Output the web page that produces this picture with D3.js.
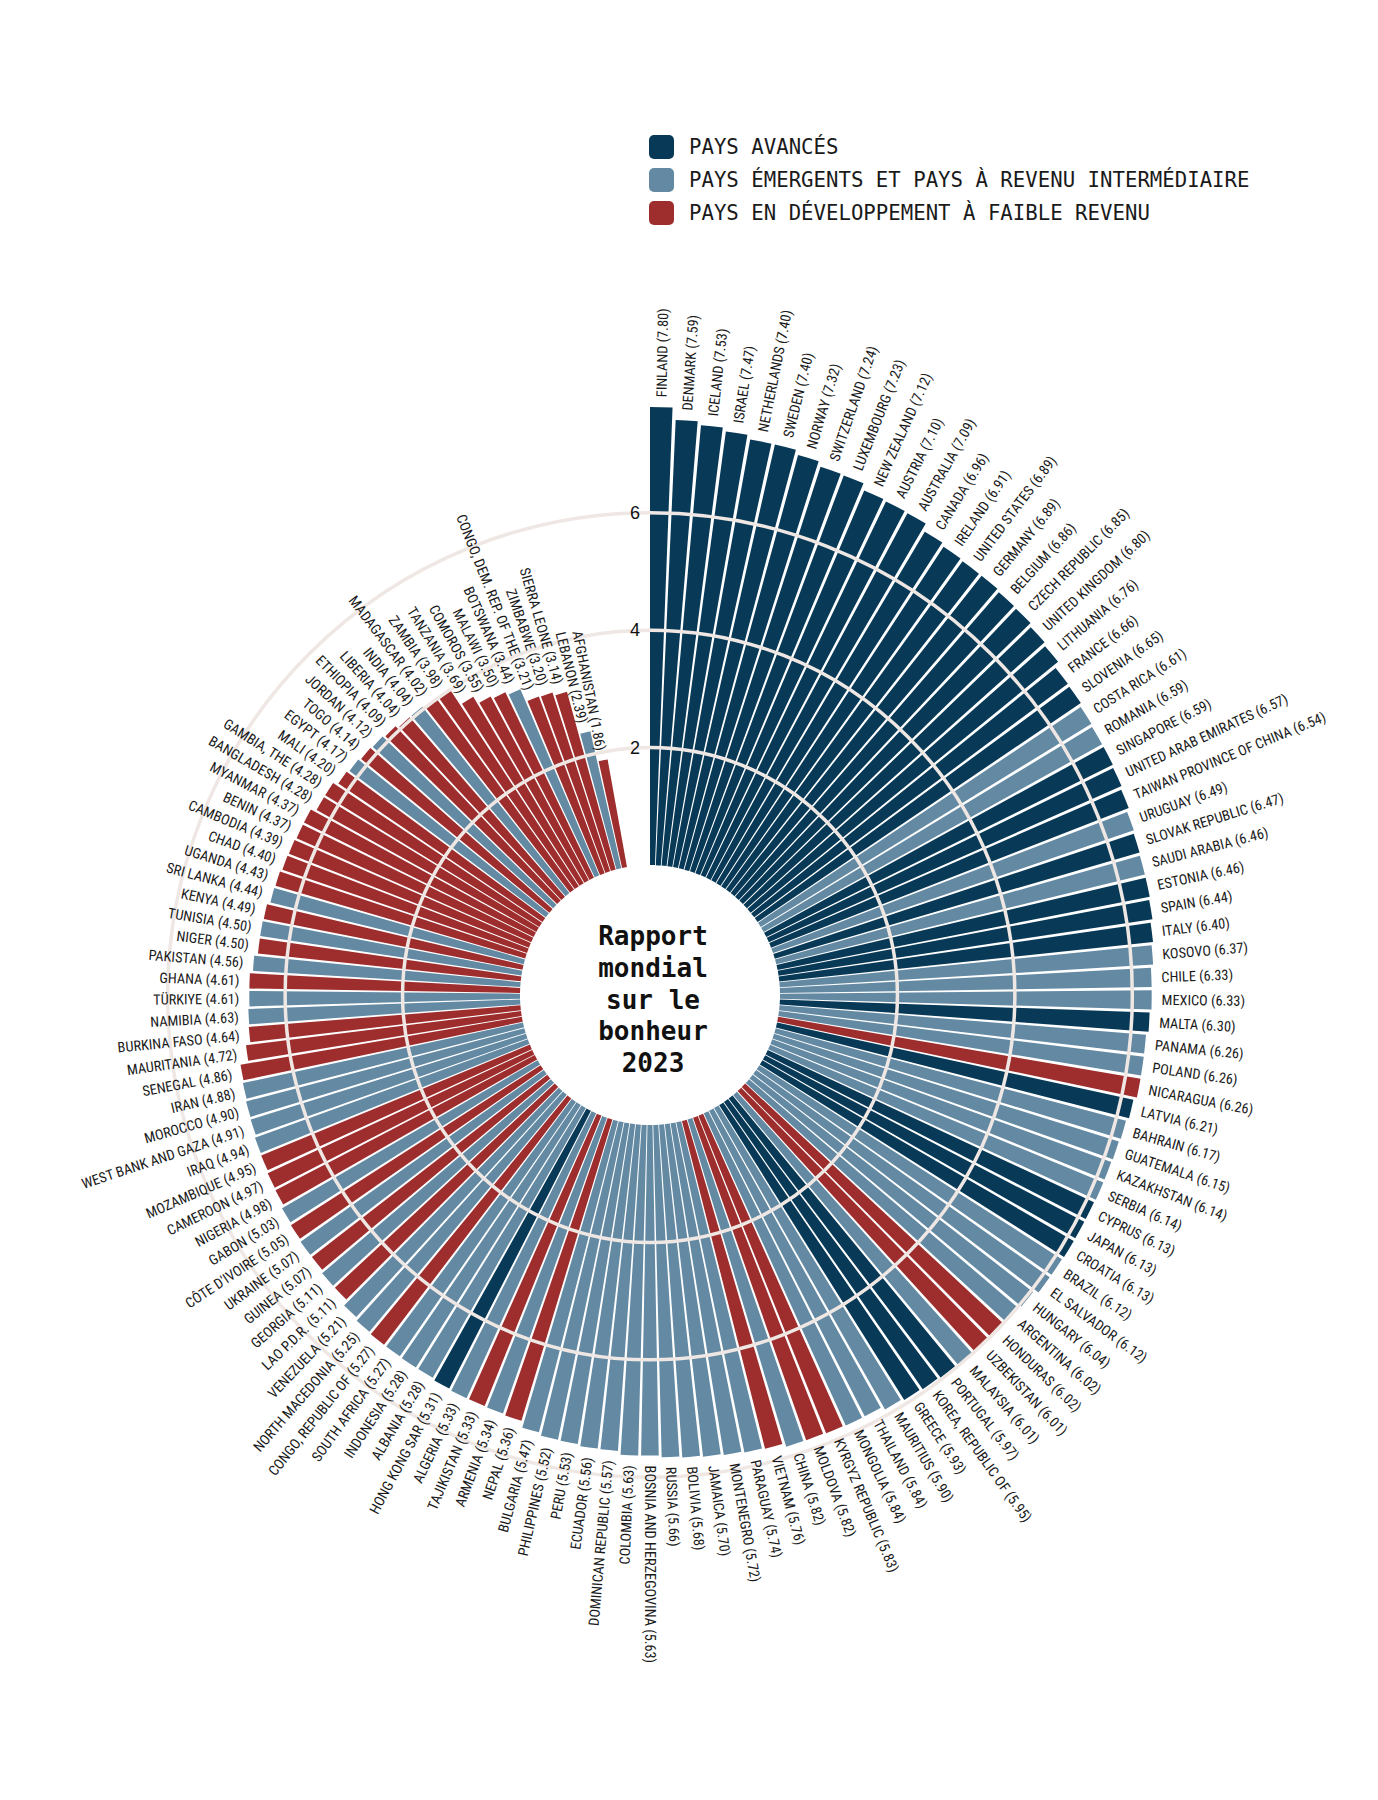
<!DOCTYPE html>
<html>
<head>
<meta charset="utf-8">
<script src="https://cdn.jsdelivr.net/npm/d3@7"></script>
<style>
  body { margin: 0; background: #fff; }
  .lbl { font-family: "Liberation Sans Narrow", "Arial Narrow", "Roboto Condensed", "DejaVu Sans Condensed", sans-serif; font-size: 14.3px; fill: #1a1a1a; }
  .mono { font-family: "DejaVu Sans Mono", "Liberation Mono", monospace; }
</style>
</head>
<body>
<div id="chart"></div>
<script>
// World Happiness Report 2023 scores, sorted high to low
const countries = [
  "FINLAND", "DENMARK", "ICELAND", "ISRAEL", "NETHERLANDS", "SWEDEN", "NORWAY", "SWITZERLAND",
  "LUXEMBOURG", "NEW ZEALAND", "AUSTRIA", "AUSTRALIA", "CANADA", "IRELAND", "UNITED STATES",
  "GERMANY", "BELGIUM", "CZECH REPUBLIC", "UNITED KINGDOM", "LITHUANIA", "FRANCE", "SLOVENIA",
  "COSTA RICA", "ROMANIA", "SINGAPORE", "UNITED ARAB EMIRATES", "TAIWAN PROVINCE OF CHINA",
  "URUGUAY", "SLOVAK REPUBLIC", "SAUDI ARABIA", "ESTONIA", "SPAIN", "ITALY", "KOSOVO", "CHILE",
  "MEXICO", "MALTA", "PANAMA", "POLAND", "NICARAGUA", "LATVIA", "BAHRAIN", "GUATEMALA",
  "KAZAKHSTAN", "SERBIA", "CYPRUS", "JAPAN", "CROATIA", "BRAZIL", "EL SALVADOR", "HUNGARY",
  "ARGENTINA", "HONDURAS", "UZBEKISTAN", "MALAYSIA", "PORTUGAL", "KOREA, REPUBLIC OF", "GREECE",
  "MAURITIUS", "THAILAND", "MONGOLIA", "KYRGYZ REPUBLIC", "MOLDOVA", "CHINA", "VIETNAM",
  "PARAGUAY", "MONTENEGRO", "JAMAICA", "BOLIVIA", "RUSSIA", "BOSNIA AND HERZEGOVINA", "COLOMBIA",
  "DOMINICAN REPUBLIC", "ECUADOR", "PERU", "PHILIPPINES", "BULGARIA", "NEPAL", "ARMENIA",
  "TAJIKISTAN", "ALGERIA", "HONG KONG SAR", "ALBANIA", "INDONESIA", "SOUTH AFRICA",
  "CONGO, REPUBLIC OF", "NORTH MACEDONIA", "VENEZUELA", "LAO P.D.R.", "GEORGIA", "GUINEA",
  "UKRAINE", "CÔTE D'IVOIRE", "GABON", "NIGERIA", "CAMEROON", "MOZAMBIQUE", "IRAQ",
  "WEST BANK AND GAZA", "MOROCCO", "IRAN", "SENEGAL", "MAURITANIA", "BURKINA FASO", "NAMIBIA",
  "TÜRKIYE", "GHANA", "PAKISTAN", "NIGER", "TUNISIA", "KENYA", "SRI LANKA", "UGANDA", "CHAD",
  "CAMBODIA", "BENIN", "MYANMAR", "BANGLADESH", "GAMBIA, THE", "MALI", "EGYPT", "TOGO", "JORDAN",
  "ETHIOPIA", "LIBERIA", "INDIA", "MADAGASCAR", "ZAMBIA", "TANZANIA", "COMOROS", "MALAWI",
  "BOTSWANA", "CONGO, DEM. REP. OF THE", "ZIMBABWE", "SIERRA LEONE", "LEBANON", "AFGHANISTAN"
];

const scores = [
  7.80, 7.59, 7.53, 7.47, 7.40, 7.40, 7.32, 7.24,
  7.23, 7.12, 7.10, 7.09, 6.96, 6.91, 6.89,
  6.89, 6.86, 6.85, 6.80, 6.76, 6.66, 6.65,
  6.61, 6.59, 6.59, 6.57, 6.54,
  6.49, 6.47, 6.46, 6.46, 6.44, 6.40, 6.37, 6.33,
  6.33, 6.30, 6.26, 6.26, 6.26, 6.21, 6.17, 6.15,
  6.14, 6.14, 6.13, 6.13, 6.13, 6.12, 6.12, 6.04,
  6.02, 6.02, 6.01, 6.01, 5.97, 5.95, 5.93,
  5.90, 5.84, 5.84, 5.83, 5.82, 5.82, 5.76,
  5.74, 5.72, 5.70, 5.68, 5.66, 5.63, 5.63,
  5.57, 5.56, 5.53, 5.52, 5.47, 5.36, 5.34,
  5.33, 5.33, 5.31, 5.28, 5.28, 5.27,
  5.27, 5.25, 5.21, 5.11, 5.11, 5.07,
  5.07, 5.05, 5.03, 4.98, 4.97, 4.95, 4.94,
  4.91, 4.90, 4.88, 4.86, 4.72, 4.64, 4.63,
  4.61, 4.61, 4.56, 4.50, 4.50, 4.49, 4.44, 4.43, 4.40,
  4.39, 4.37, 4.37, 4.28, 4.28, 4.20, 4.17, 4.14, 4.12,
  4.09, 4.04, 4.04, 4.02, 3.98, 3.69, 3.55, 3.50,
  3.44, 3.21, 3.20, 3.14, 2.39, 1.86
];

// A = advanced, E = emerging / middle income, L = low-income developing
const groups = [
  "A","A","A","A","A","A","A","A",
  "A","A","A","A","A","A","A",
  "A","A","A","A","A","A","A",
  "E","E","A","A","A",
  "E","A","E","A","A","A","E","E",
  "E","A","E","E","L","A","E","E",
  "E","E","A","A","A","E","E","E",
  "E","L","L","E","A","A","A",
  "E","E","E","L","L","E","L",
  "E","E","E","E","E","E","E",
  "E","E","E","E","E","L","E",
  "L","E","A","E","E","E",
  "L","E","E","L","E","L",
  "E","L","E","L","L","L","E",
  "E","E","E","L","L","L","E",
  "E","L","E","L","E","L","E","L","L",
  "L","L","L","L","L","L","E","L","E",
  "L","L","E","L","L","L","L","L",
  "E","L","L","L","E","L"
];

const groupKeys = ["A", "E", "L"];
const groupLabels = [
  "PAYS AVANCÉS",
  "PAYS ÉMERGENTS ET PAYS À REVENU INTERMÉDIAIRE",
  "PAYS EN DÉVELOPPEMENT À FAIBLE REVENU"
];
const groupColors = ["#083a58", "#6389a3", "#9e2e2e"];
const tickValues = [2, 4, 6];
const titleLines = ["Rapport", "mondial", "sur le", "bonheur", "2023"];

const width = 1378, height = 1800;
const cx = 650, cy = 995;
const innerRadius = 130, outerRadius = 588;

const data = countries.map((c, i) => ({ name: c, score: scores[i], group: groups[i] }));

const x = d3.scaleBand()
  .domain(countries)
  .range([0, 2 * Math.PI * 349.8 / 360])
  .paddingInner(0.14)
  .align(0);

const y = d3.scaleLinear()
  .domain([0, 7.8])
  .range([innerRadius, outerRadius]);

const color = d3.scaleOrdinal().domain(groupKeys).range(groupColors);

const svg = d3.select("#chart")
  .append("svg")
  .attr("width", width)
  .attr("height", height);

const g = svg.append("g").attr("transform", `translate(${cx},${cy})`);

// bars
const arc = d3.arc()
  .innerRadius(innerRadius)
  .outerRadius(d => y(d.score))
  .startAngle(d => x(d.name))
  .endAngle(d => x(d.name) + x.bandwidth());

g.append("g")
  .selectAll("path")
  .data(data)
  .join("path")
  .attr("d", arc)
  .attr("fill", d => color(d.group));

// grid circles, drawn over the bars
g.append("g")
  .selectAll("circle")
  .data(tickValues)
  .join("circle")
  .attr("r", d => y(d))
  .attr("fill", "none")
  .attr("stroke", "#efe7e3")
  .attr("stroke-width", 3.5);

g.append("g")
  .selectAll("text")
  .data(tickValues)
  .join("text")
  .attr("x", -10)
  .attr("y", d => -y(d))
  .attr("dy", "0.35em")
  .attr("text-anchor", "end")
  .style("font-family", "'Liberation Sans', Arial, sans-serif")
  .style("font-size", "18px")
  .style("fill", "#111")
  .text(d => d);

// country labels
const midAngle = d => x(d.name) + x.bandwidth() / 2;
const flip = d => midAngle(d) * 180 / Math.PI > 180.5;

g.append("g")
  .selectAll("g")
  .data(data)
  .join("g")
  .attr("transform", d => `rotate(${midAngle(d) * 180 / Math.PI - 90}) translate(${y(d.score) + 10},0)`)
  .append("text")
  .attr("class", "lbl")
  .attr("transform", d => flip(d) ? "rotate(180)" : null)
  .attr("text-anchor", d => flip(d) ? "end" : "start")
  .attr("dy", "0.35em")
  .text(d => `${d.name} (${d.score.toFixed(2)})`);

// title in the hole
g.append("g")
  .selectAll("text")
  .data(titleLines)
  .join("text")
  .attr("class", "mono")
  .attr("x", 3)
  .attr("y", (d, i) => -50 + i * 31.8)
  .attr("text-anchor", "middle")
  .style("font-size", "26px")
  .style("font-weight", "bold")
  .style("fill", "#111")
  .text(d => d);

// legend
const legend = svg.append("g")
  .attr("transform", "translate(649,147)")
  .selectAll("g")
  .data(groupKeys)
  .join("g")
  .attr("transform", (d, i) => `translate(0,${i * 33})`);

legend.append("rect")
  .attr("x", 0)
  .attr("y", -12)
  .attr("width", 25)
  .attr("height", 24)
  .attr("rx", 5)
  .attr("fill", d => color(d));

legend.append("text")
  .attr("class", "mono")
  .attr("x", 40)
  .attr("dy", "0.36em")
  .style("font-size", "20.7px")
  .style("fill", "#1a1a1a")
  .text((d, i) => groupLabels[i]);
</script>
</body>
</html>
